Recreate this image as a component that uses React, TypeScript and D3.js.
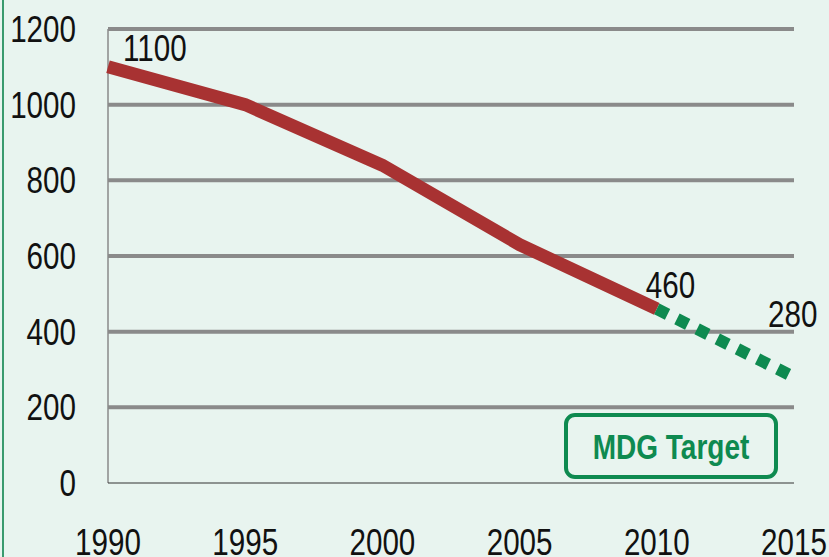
import React from 'react';
import * as d3 from 'd3';

const years = [1990, 1995, 2000, 2005, 2010];
const values = [1100, 1000, 840, 630, 460];
const targetYears = [2010, 2015];
const targetValues = [460, 280];
const yTicks = [0, 200, 400, 600, 800, 1000, 1200];
const xTicks = [1990, 1995, 2000, 2005, 2010, 2015];
const labelPoints = [
  { year: 1990, value: 1100, text: '1100' },
  { year: 2010, value: 460, text: '460' },
  { year: 2015, value: 280, text: '280' }
];

const W = 829;
const H = 557;
const FONT = '"Liberation Sans", Arial, sans-serif';
const SQUEEZE = 0.8;

// condensed text: the reference uses a narrow face, so squash a normal one
function Txt({ x, y, anchor = 'start', size = 37, weight = 'normal', fill = '#111', children }: any) {
  return (
    <text
      transform={`translate(${x},${y}) scale(${SQUEEZE},1)`}
      textAnchor={anchor}
      fontSize={size}
      fontWeight={weight}
      fill={fill}
    >
      {children}
    </text>
  );
}

export default function App() {
  const x = d3.scaleLinear().domain([1990, 2015]).range([108, 794]);
  const y = d3.scaleLinear().domain([0, 1200]).range([483, 29]);

  const line = d3
    .line<number>()
    .x((_, i) => x(years[i]))
    .y(d => y(d));

  const target = d3
    .line<number>()
    .x((_, i) => x(targetYears[i]))
    .y(d => y(d));

  const labelOffset: Record<number, [number, number]> = {
    1990: [15, -6],
    2010: [-11, -11],
    2015: [-26, -50]
  };

  return (
    <svg
      width={W}
      height={H}
      style={{ position: 'absolute', left: 0, top: 0 }}
      fontFamily={FONT}
    >
      <rect x={0} y={0} width={W} height={H} fill="#e8f4ef" />
      <line x1={3} x2={3} y1={0} y2={H} stroke="#3a9a6e" strokeWidth={2} />

      {/* gridlines */}
      {yTicks.filter(t => t > 0).map(t => (
        <line
          key={t}
          x1={x(1990)}
          x2={x(2015)}
          y1={y(t)}
          y2={y(t)}
          stroke="#8a8a8a"
          strokeWidth={4}
        />
      ))}
      <line x1={x(1990)} x2={x(1990)} y1={y(1200)} y2={y(0)} stroke="#8a8a8a" strokeWidth={1.5} />
      <line x1={x(1990)} x2={x(2015)} y1={y(0)} y2={y(0)} stroke="#333" strokeWidth={1} />

      {/* y tick labels */}
      {yTicks.map(t => (
        <Txt key={t} x={76} y={y(t) + 13} anchor="end">
          {t}
        </Txt>
      ))}

      {/* x tick labels */}
      {xTicks.map(t => (
        <Txt key={t} x={x(t)} y={555} anchor="middle">
          {t}
        </Txt>
      ))}

      <path d={line(values) || ''} fill="none" stroke="#a83232" strokeWidth={13} />
      <path
        d={target(targetValues) || ''}
        fill="none"
        stroke="#0e8a50"
        strokeWidth={12}
        strokeDasharray="12 10.5"
      />

      {labelPoints.map(p => (
        <Txt
          key={p.text}
          x={x(p.year) + labelOffset[p.year][0]}
          y={y(p.value) + labelOffset[p.year][1]}
        >
          {p.text}
        </Txt>
      ))}

      <rect x={566} y={415} width={210} height={62} rx={9} fill="none" stroke="#0e8a50" strokeWidth={4} />
      <Txt x={671} y={459} anchor="middle" size={35} weight="bold" fill="#0e8a50">
        MDG Target
      </Txt>
    </svg>
  );
}
